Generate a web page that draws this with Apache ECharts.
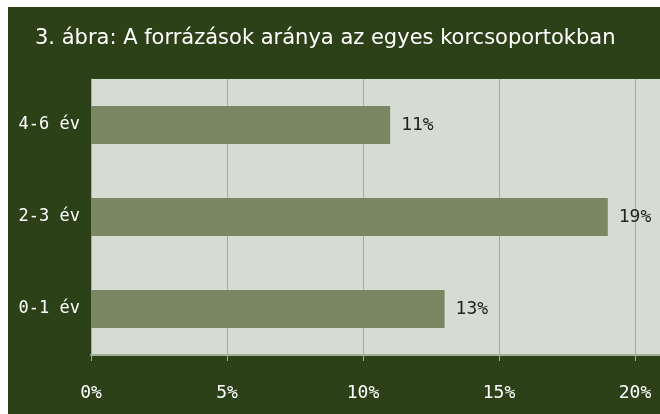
<!DOCTYPE html>
<html>
<head>
<meta charset="utf-8">
<script src="https://cdn.jsdelivr.net/npm/echarts@6/dist/echarts.min.js"></script>
<style>
  html, body { margin: 0; padding: 0; background: #fff; }
  #chart { position: absolute; left: 8px; top: 7px; width: 652px; height: 407px; }
</style>
</head>
<body>
<div id="chart"></div>
<script>
// adatok
const categories = ['0-1 év', '2-3 év', '4-6 év'];
const values = [13, 19, 11];
const xTicks = [0, 5, 10, 15, 20];

const chart = echarts.init(document.getElementById('chart'));
const labelFont = '"DejaVu Sans Mono", monospace';

chart.setOption({
  backgroundColor: '#2d4118',
  animation: false,
  title: {
    text: '3. ábra: A forrázások aránya az egyes korcsoportokban',
    left: 22,
    top: 16,
    textStyle: { color: '#fff', fontFamily: '"DejaVu Sans", sans-serif', fontSize: 21, fontWeight: 'normal' }
  },
  grid: {
    left: 83, right: 0, top: 72, bottom: 59,
    show: true, backgroundColor: '#d6dcd2', borderWidth: 0
  },
  xAxis: {
    type: 'value',
    min: 0,
    max: 20.92, // a rajzterület jobbra túlnyúlik a 20%-on
    interval: 5,
    axisLine: { show: true, lineStyle: { color: '#a3ad97', width: 2 } },
    axisTick: { show: true, length: 6, lineStyle: { color: '#a3ad97' } },
    splitLine: { show: true, showMaxLine: false, lineStyle: { color: '#a3ad97', width: 1 } },
    axisLabel: {
      showMaxLabel: false,
      margin: 29,
      color: '#fff',
      fontFamily: labelFont,
      fontSize: 18,
      formatter: function (v) { return xTicks.indexOf(v) >= 0 ? v + '%' : ''; }
    }
  },
  yAxis: {
    type: 'category',
    data: categories,
    axisLine: { show: true, lineStyle: { color: '#a3ad97', width: 1 } },
    axisTick: { show: false },
    axisLabel: { margin: 11, color: '#fff', fontFamily: labelFont, fontSize: 17 }
  },
  series: [{
    type: 'bar',
    data: values,
    barWidth: 38,
    itemStyle: { color: '#7a8763' },
    label: {
      show: true,
      position: 'right',
      distance: 11,
      color: '#222',
      fontFamily: labelFont,
      fontSize: 18,
      formatter: '{c}%'
    }
  }]
});
</script>
</body>
</html>
